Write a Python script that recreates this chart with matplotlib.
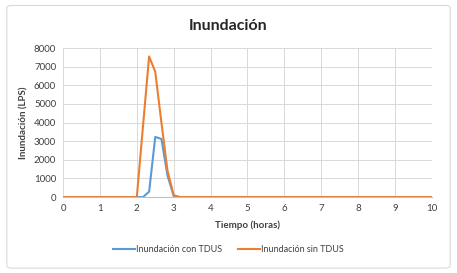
import matplotlib
matplotlib.use("Agg")
import matplotlib.pyplot as plt
from matplotlib.patches import FancyBboxPatch

time_h = [0, 2.0, 2.167, 2.333, 2.5, 2.667, 2.833, 3.0, 3.167, 10]
con_tdus = [0, 0, 0, 290, 3230, 3120, 1150, 60, 0, 0]
sin_tdus = [0, 0, 3800, 7550, 6720, 4000, 1400, 100, 0, 0]

title = "Inundación"
xlabel = "Tiempo (horas)"
ylabel = "Inundación (LPS)"
labels = ["Inundación con TDUS", "Inundación sin TDUS"]

plt.rcParams['font.family'] = ['Lato', 'DejaVu Sans']

fig = plt.figure(figsize=(4.57, 2.73), dpi=100)
fig.patch.set_facecolor('white')
frame = FancyBboxPatch((0.015, 0.018), 0.97, 0.962, boxstyle="round,pad=0,rounding_size=0.01",
                       transform=fig.transFigure, facecolor='white', edgecolor='#d9d9d9', lw=0.8,
                       zorder=-10)
fig.patches.append(frame)

ax = fig.add_axes([0.138, 0.278, 0.807, 0.546])
ax.patch.set_alpha(0)
ax.plot(time_h, con_tdus, color='#5B9BD5', lw=1.5, label=labels[0])
ax.plot(time_h, sin_tdus, color='#ED7D31', lw=1.5, label=labels[1])

ax.set_xlim(0, 10)
ax.set_ylim(0, 8000)
ax.set_xticks(range(0, 11))
ax.set_yticks(range(0, 8001, 1000))
ax.grid(True, color='#d9d9d9', lw=0.7)
ax.set_axisbelow(True)
for s in ['top', 'right', 'left']:
    ax.spines[s].set_visible(False)
ax.spines['bottom'].set_color('#bfbfbf')
ax.tick_params(length=0, labelsize=7, colors='#404040', pad=5)

fig.text(0.5, 0.905, title, fontsize=11.5, fontweight='bold', color='#262626',
         ha='center', va='center')
ax.set_xlabel(xlabel, fontsize=7, fontweight='bold', color='#404040', labelpad=5)
ax.set_ylabel(ylabel, fontsize=7, fontweight='bold', color='#404040', labelpad=4)

fig.legend(loc='center', bbox_to_anchor=(0.5, 0.085), ncol=2, frameon=False,
           fontsize=6.5, handlelength=2.4, columnspacing=1.8, handletextpad=0.1,
           labelcolor='#404040')

fig.savefig('out.png', dpi=100)
